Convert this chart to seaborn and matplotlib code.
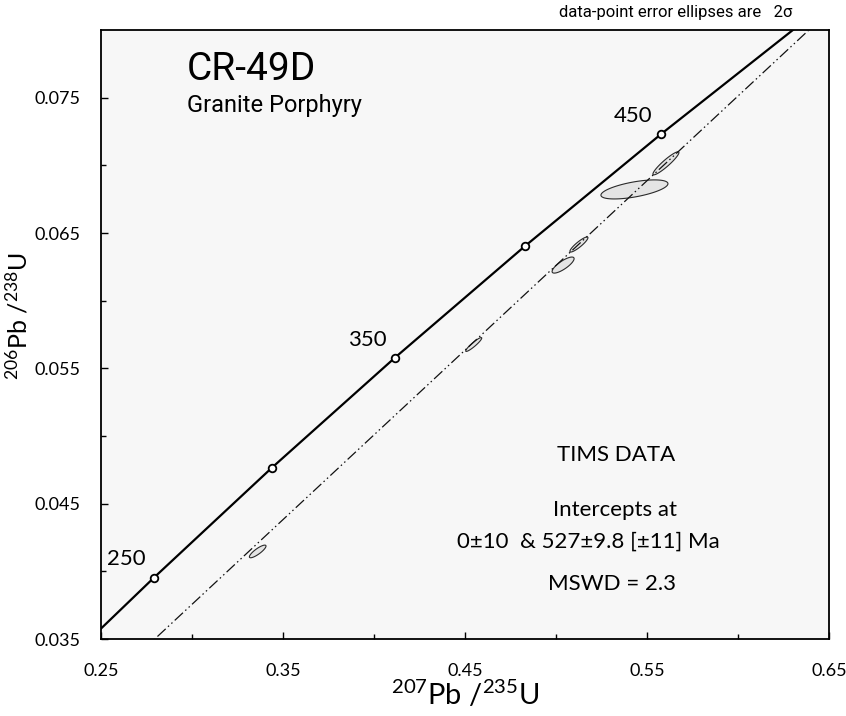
import numpy as np
import matplotlib
matplotlib.use('Agg')
import matplotlib.pyplot as plt
import seaborn as sns
from matplotlib.ticker import FixedLocator, FormatStrFormatter

# ---------------- data ----------------
conc_age = [225, 250, 300, 350, 400, 450, 500]
conc_x = [0.24806, 0.27917, 0.34374, 0.41156, 0.48281, 0.55766, 0.63628]
conc_y = [0.035519, 0.039543, 0.047637, 0.055794, 0.064016, 0.072301, 0.080650]

marker_age = [250, 300, 350, 400, 450]
marker_x = [0.27917, 0.34374, 0.41156, 0.48281, 0.55766]
marker_y = [0.039543, 0.047637, 0.055794, 0.064016, 0.072301]
label_ages = [250, 350, 450]

disc_x = [0.0, 0.68037]
disc_y = [0.0, 0.085186]

ell_x = [0.3361, 0.4548, 0.5039, 0.5126, 0.5431, 0.5604]
ell_y = [0.04147, 0.05676, 0.06263, 0.06415, 0.06822, 0.07015]
ell_sx = [0.00456, 0.00440, 0.00604, 0.00495, 0.01841, 0.00714]
ell_sy = [0.000467, 0.000511, 0.000593, 0.000556, 0.000704, 0.000852]
ell_rho = [0.85, 0.93, 0.80, 0.90, 0.60, 0.93]

x_major = [0.25, 0.35, 0.45, 0.55, 0.65]
x_minor = [0.30, 0.40, 0.50, 0.60]
y_major = [0.035, 0.045, 0.055, 0.065, 0.075]
y_minor = [0.040, 0.050, 0.060, 0.070]

# ---------------- style ----------------
sns.set_theme(style='ticks')
plt.rcParams['font.family'] = ['Lato', 'DejaVu Sans']
plt.rcParams['mathtext.fontset'] = 'custom'
plt.rcParams['mathtext.rm'] = 'Lato'
plt.rcParams['mathtext.default'] = 'rm'
plt.rcParams['text.color'] = 'black'
plt.rcParams['axes.labelcolor'] = 'black'
plt.rcParams['xtick.color'] = 'black'
plt.rcParams['ytick.color'] = 'black'

fig = plt.figure(figsize=(8.46, 7.16), dpi=100)
ax = fig.add_axes([101/846, 1 - 639/716, 728/846, 609/716])
ax.set_facecolor('#f7f7f7')

# error ellipses
theta = np.linspace(0, 2*np.pi, 240)
for cx, cy, sx, sy, r in zip(ell_x, ell_y, ell_sx, ell_sy, ell_rho):
    ex = cx + sx*np.cos(theta)
    ey = cy + sy*(r*np.cos(theta) + np.sqrt(1 - r*r)*np.sin(theta))
    ax.fill(ex, ey, facecolor='#e4e4e4', edgecolor='#2a2a2a', lw=0.8, zorder=2)

# discordia
sns.lineplot(x=disc_x, y=disc_y, ax=ax, color='#111111', lw=0.9, sort=False,
             estimator=None, zorder=3)
ax.lines[-1].set_dashes([9, 2.5, 1.2, 2.5, 1.2, 2.5])

# concordia
sns.lineplot(x=conc_x, y=conc_y, ax=ax, color='black', lw=1.6, sort=False,
             estimator=None, zorder=4)
sns.scatterplot(x=marker_x, y=marker_y, ax=ax, s=30, color='white',
                edgecolor='black', linewidth=1.3, zorder=5)
for a in label_ages:
    i = marker_age.index(a)
    ax.annotate(str(a), (marker_x[i], marker_y[i]), xytext=(-20, 13),
                textcoords='offset points', ha='center', va='center',
                fontsize=16)

ax.set_xlim(0.25, 0.65)
ax.set_ylim(0.035, 0.080)
ax.xaxis.set_major_locator(FixedLocator(x_major))
ax.xaxis.set_minor_locator(FixedLocator(x_minor))
ax.yaxis.set_major_locator(FixedLocator(y_major))
ax.yaxis.set_minor_locator(FixedLocator(y_minor))
ax.xaxis.set_major_formatter(FormatStrFormatter('%.2f'))
ax.yaxis.set_major_formatter(FormatStrFormatter('%.3f'))
ax.tick_params(which='both', direction='in', top=False, right=False,
               width=1.0, color='black', labelsize=13, labelcolor='black')
ax.tick_params(which='major', length=5)
ax.tick_params(which='minor', length=3.5)
ax.tick_params(axis='x', which='major', pad=17)
ax.tick_params(axis='y', which='major', pad=15)
for s in ax.spines.values():
    s.set_visible(True)
    s.set_color('black')
    s.set_linewidth(1.3)

ax.set_xlabel(r'$^{207}$Pb /$^{235}$U', fontsize=21, labelpad=0, color='black')
ax.set_ylabel(r'$^{206}$Pb /$^{238}$U', fontsize=18, color='black')
ax.yaxis.set_label_coords((31 - 101)/728, 0.53)

narrow = ['Roboto', 'DejaVu Sans']
ax.text(0.118, 0.918, 'CR-49D', transform=ax.transAxes, fontsize=28,
        family=narrow, ha='left', va='baseline')
ax.text(0.118, 0.865, 'Granite Porphyry', transform=ax.transAxes, fontsize=17,
        family=narrow, ha='left', va='baseline')
fig.text(792/846, 1 - 13/716, 'data-point error ellipses are   2\u03c3',
         fontsize=12, family=narrow, ha='right', va='center')


def px(xp, yp):
    return ((xp - 101)/728, (639 - yp)/609)


ax.text(*px(616, 455), 'TIMS DATA', transform=ax.transAxes, fontsize=16,
        ha='center', va='center')
ax.text(*px(615, 510), 'Intercepts at', transform=ax.transAxes, fontsize=16,
        ha='center', va='center')
ax.text(*px(457, 542), '0\u00b110  & 527\u00b19.8 [\u00b111] Ma',
        transform=ax.transAxes, fontsize=16, ha='left', va='center')
ax.text(*px(612, 584), 'MSWD = 2.3', transform=ax.transAxes, fontsize=16,
        ha='center', va='center')

fig.savefig('out.png', dpi=100, facecolor='white')
